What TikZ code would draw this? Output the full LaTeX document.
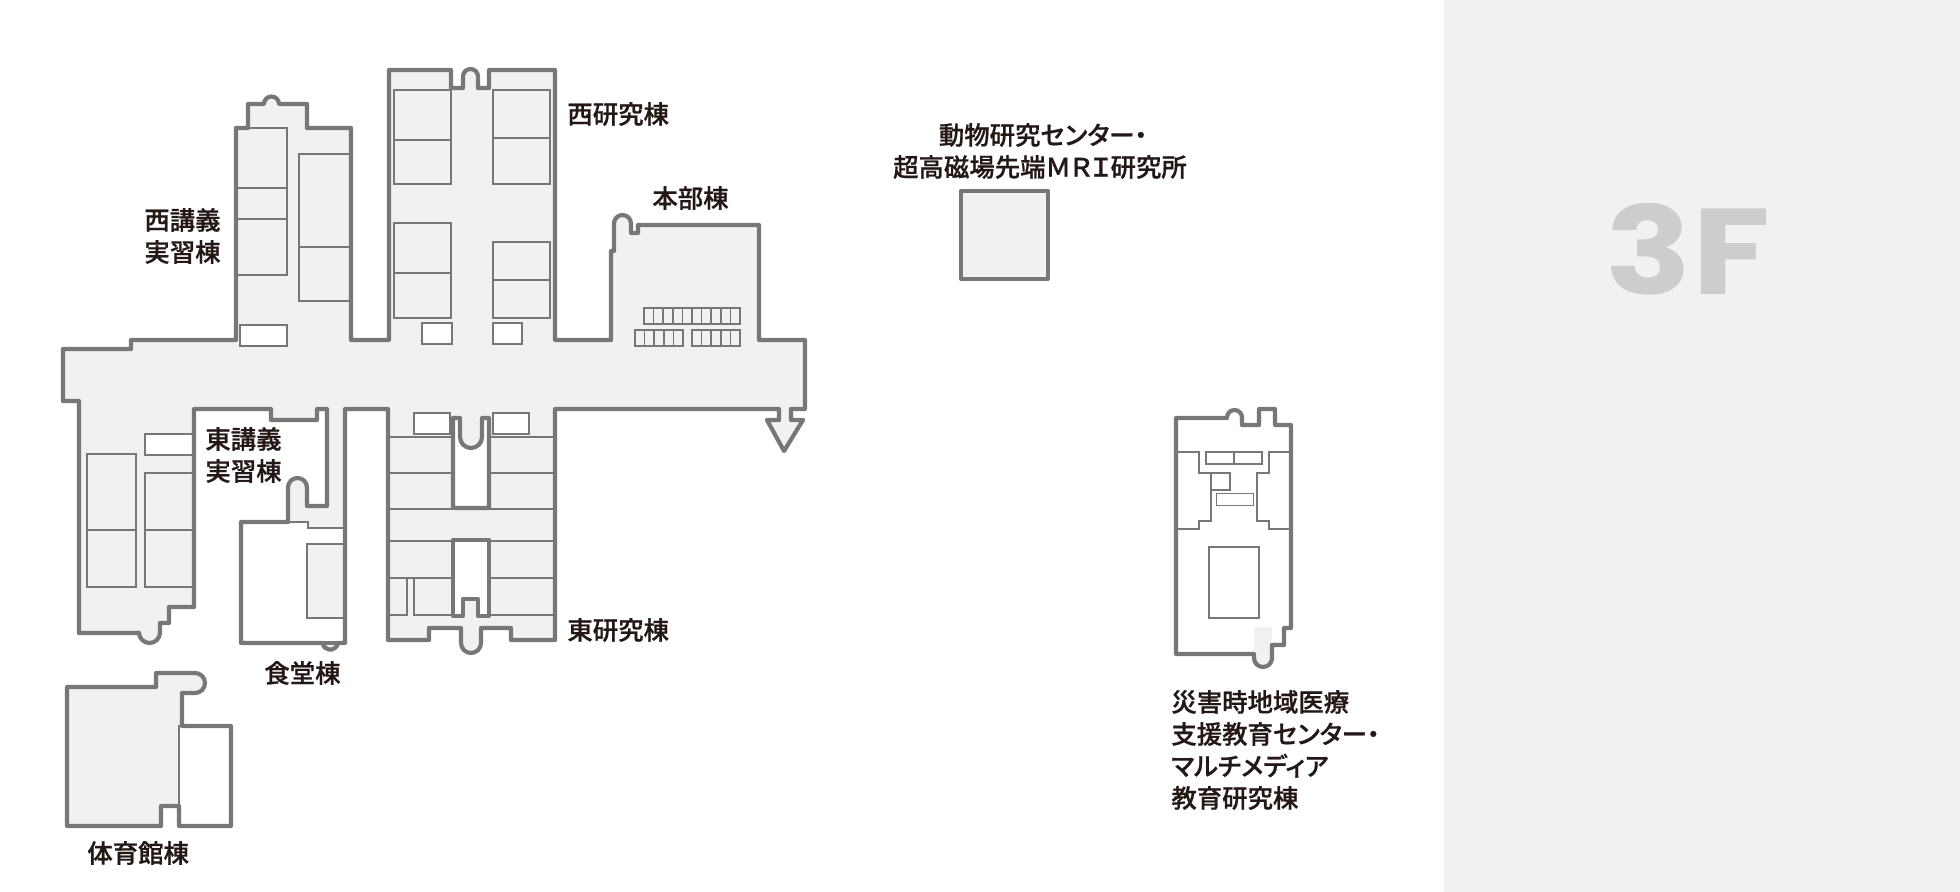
\documentclass[tikz,border=0pt]{standalone}
\usepackage{fontspec}
\usepackage{tikz}
\newfontfamily\jpfont[RawFeature={+palt}, FakeBold=0.7]{Noto Sans CJK JP Medium}
\newfontfamily\floorfont[BoldFont=Poppins Bold, BoldFeatures={FakeStretch=1.17}]{Poppins}
\definecolor{wallgray}{HTML}{777777}
\definecolor{roomgray}{HTML}{F1F1F1}
\definecolor{inkblack}{HTML}{231815}
\definecolor{floorgray}{HTML}{CDCDCD}
% outlines, in pixels of the plan
\def\mainwall{(63,348) -- (131,348) -- (131,339) -- (236,339) -- (236,127) -- (248,127) -- (248,103) -- (264,103)
  arc[radius=7.5, start angle=180, end angle=360] -- (279,103) -- (307,103) -- (307,127) -- (351,127) -- (351,339)
  -- (389,339) -- (389,69) -- (451,69) -- (451,87) -- (463,87) -- (463,75.5)
  arc[radius=7.5, start angle=180, end angle=360] -- (478,87) -- (489,87) -- (489,69) -- (555,69) -- (555,339)
  -- (611,339) -- (611,250) -- (614,250) -- (614,222.5)
  arc[radius=8.5, start angle=180, end angle=360] -- (631,232) -- (638,232) -- (638,224) -- (759,224) -- (759,339)
  -- (805,339) -- (805,408) -- (791,408) -- (791,419) -- (803,419) -- (784,450) -- (767,419) -- (779,419) -- (779,408)
  -- (555,408) -- (555,639) -- (511,639) -- (511,627) -- (481,627) -- (481,642)
  arc[radius=10, start angle=0, end angle=180] -- (461,627) -- (429,627) -- (429,639) -- (388,639) -- (388,408)
  -- (345,408) -- (345,642) -- (338,642)
  arc[radius=8, start angle=10, end angle=170] -- (241,642) -- (241,521) -- (288,521) -- (288,486.5)
  arc[radius=9.5, start angle=180, end angle=360] -- (307,505) -- (327,505) -- (327,408) -- (317,408) -- (317,419)
  -- (271,419) -- (271,408) -- (194,408) -- (194,606) -- (169,606) -- (169,622) -- (160,622) -- (160,631.5)
  arc[radius=10.5, start angle=0, end angle=180] -- (139,632) -- (79,632) -- (79,400) -- (63,400) -- cycle}
\def\gymwall{(67,686) -- (156,686) -- (156,672) -- (195,672)
  arc[radius=10, start angle=270, end angle=450] -- (182,692) -- (182,725) -- (231,725) -- (231,825) -- (179,825)
  -- (179,805) -- (161,805) -- (161,825) -- (67,825) -- cycle}
\def\carewall{(1176,417) -- (1227,417) -- (1227,416.5)
  arc[radius=7.5, start angle=180, end angle=360] -- (1242,424) -- (1259,424) -- (1259,408) -- (1275,408) -- (1275,424)
  -- (1291,424) -- (1291,627) -- (1284,627) -- (1284,644) -- (1272,644) -- (1272,657)
  arc[radius=9, start angle=0, end angle=180] -- (1254,653) -- (1176,653) -- cycle}
\begin{document}
\begin{tikzpicture}[x=.5pt, y=-.5pt,
    wall/.style={draw=wallgray, line width=2.1pt, line join=round},
    room/.style={draw=wallgray, line width=.85pt},
    bldname/.style={text=inkblack, inner sep=0pt, align=left, anchor=west,
      font=\jpfont\fontsize{12.7}{16}\selectfont}]
  \useasboundingbox (0,-1) rectangle (1960,891);
  \fill[roomgray] (1444,-1) rectangle (1960,891);
  \node[anchor=base, text=floorgray, inner sep=0pt, font=\floorfont\bfseries\fontsize{61}{61}\selectfont] (floor) at (1688,294) {3F};
  % main building
  \fill[roomgray] \mainwall;
  % dining hall
  \fill[white] (241,642) -- (241,521) -- (308,521) -- (308,527) -- (345,527) -- (345,642) -- cycle;
  \draw[room] (288,521) -- (308,521) -- (308,527) -- (345,527);
  \draw[room, fill=roomgray] (345,543) -- (307,543) -- (307,617) -- (345,617);
  % west lecture rooms
  \draw[room] (237,127) -- (287,127) -- (287,274) -- (237,274);
  \foreach \y in {187, 218} {
    \draw[room] (237,\y) -- (287,\y);
  };
  \draw[room] (351,153) -- (299,153) -- (299,300) -- (351,300);
  \draw[room] (299,246) -- (351,246);
  % east lecture rooms
  \draw[room] (87,453) rectangle (136,586);
  \draw[room] (87,529) -- (136,529);
  \draw[room] (194,472) -- (145,472) -- (145,586) -- (194,586);
  \draw[room] (145,529) -- (194,529);
  % west research rooms
  \foreach \xa/\xb/\ya/\ym/\yb in {394/451/89/139/183, 394/451/222/272/317, 493/550/89/137/183, 493/550/241/279/317} {
    \draw[room] (\xa,\ya) rectangle (\xb,\yb);
    \draw[room] (\xa,\ym) -- (\xb,\ym);
  };
  % east research rooms
  \foreach \y in {436, 472, 508, 540, 577} {
    \draw[room] (388,\y) -- (453,\y);
    \draw[room] (489,\y) -- (555,\y);
  };
  \draw[room] (388,614) -- (407,614) -- (407,577);
  \draw[room] (414,577) -- (414,614) -- (453,614);
  \draw[room] (489,614) -- (555,614);
  % seats
  \foreach \xa/\xb/\ya/\yb/\n in {644/740/307/323/10, 635/683/329/345/5, 692/740/329/345/5} {
    \draw[room] (\xa,\ya) rectangle (\xb,\yb);
    \foreach \i in {1,...,\n} {
      \draw[room] ({\xa+(\xb-\xa)*\i/\n},\ya) -- ({\xa+(\xb-\xa)*\i/\n},\yb);
    };
  };
  % white boxes
  \foreach \xa/\ya/\xb/\yb in {240/324/287/345, 422/322/452/343, 493/322/522/343, 145/433/194/454, 414/412/450/433, 493/412/529/433} {
    \draw[room, fill=white] (\xa,\ya) rectangle (\xb,\yb);
  };
  % courts
  \draw[wall, fill=white] (453,417) -- (460,417) -- (460,436) arc[radius=11, start angle=180, end angle=0]
    -- (482,417) -- (489,417) -- (489,507) -- (453,507) -- cycle;
  \draw[wall, fill=white] (453,539) -- (489,539) -- (489,615) -- (478,615) -- (478,598) -- (463,598) -- (463,615)
    -- (453,615) -- cycle;
  \draw[wall] \mainwall;
  \draw[wall] (322,642) -- (338,642);
  % gym
  \fill[roomgray] \gymwall;
  \draw[room, fill=white] (179,805) -- (179,725) -- (231,725) -- (231,825) -- (179,825) -- cycle;
  \draw[wall] \gymwall;
  % mri
  \draw[wall, fill=roomgray] (961,190) rectangle (1048,278);
  % care center
  \fill[white] \carewall;
  \fill[roomgray] (1254,626) -- (1272,626) -- (1272,657) arc[radius=9, start angle=0, end angle=180] -- cycle;
  \draw[room] (1176,451) -- (1199,451) -- (1199,472) -- (1211,472) -- (1211,520) -- (1199,520) -- (1199,528) -- (1176,528);
  \draw[room] (1291,451) -- (1269,451) -- (1269,472) -- (1257,472) -- (1257,520) -- (1269,520) -- (1269,528) -- (1291,528);
  \draw[room] (1206,451) rectangle (1262,463);
  \draw[room] (1234,451) -- (1234,463);
  \draw[room] (1211,472) rectangle (1230,489);
  \draw[room, line width=.4pt] (1216,492) rectangle (1253,504);
  \draw[room] (1209,546) rectangle (1259,617);
  \draw[wall] \carewall;
  % names
  \node[bldname] (westlecture) at (144,235) {西講義\\実習棟};
  \node[bldname] (eastlecture) at (205,454) {東講義\\実習棟};
  \node[bldname] (westlab) at (567,113) {西研究棟};
  \node[bldname] (head) at (652,197) {本部棟};
  \node[bldname] (eastlab) at (567,629) {東研究棟};
  \node[bldname] (dining) at (264,672) {食堂棟};
  \node[bldname] (gym) at (87,852) {体育館棟};
  \node[bldname, align=center, anchor=center] (mri) at (1040,150) {\hspace*{3pt}動物研究センター・\\超高磁場先端ＭＲＩ研究所};
  \node[bldname] (care) at (1171,749) {災害時地域医療\\支援教育センター・\\マルチメディア\\教育研究棟};
\end{tikzpicture}
\end{document}
